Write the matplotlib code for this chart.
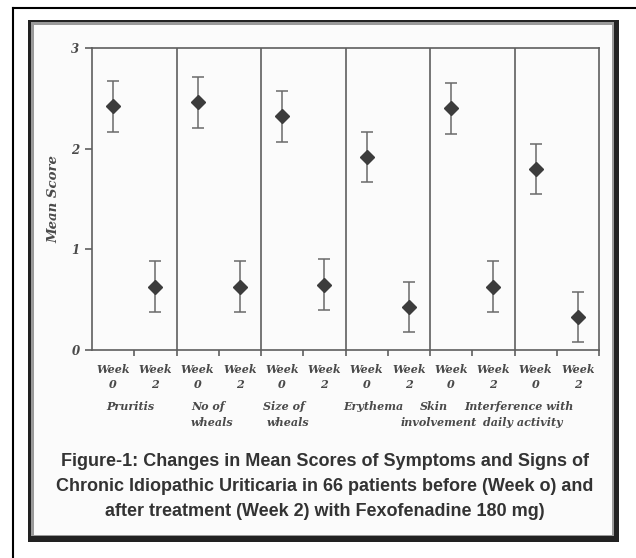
import numpy as np
import matplotlib
matplotlib.use("Agg")
import matplotlib.pyplot as plt
from matplotlib.patches import Rectangle
from matplotlib.lines import Line2D

# values
categories = ["Pruritis", "No of\nwheals", "Size of\nwheals", "Erythema",
              "Skin\ninvolvement", "Interference with\ndaily activity"]
week_labels = ["Week\n0", "Week\n2"]
mean_w0 = [2.42, 2.46, 2.32, 1.92, 2.40, 1.80]
mean_w2 = [0.63, 0.63, 0.65, 0.43, 0.63, 0.33]
err_w0 = [0.25, 0.25, 0.25, 0.25, 0.25, 0.25]
err_w2 = [0.25, 0.25, 0.25, 0.25, 0.25, 0.25]
yticks = [0, 1, 2, 3]
caption = ("Figure-1: Changes in Mean Scores of Symptoms and Signs of\n"
           "Chronic Idiopathic Uriticaria in 66 patients before (Week o) and\n"
           "after treatment (Week 2) with Fexofenadine 180 mg)")

W, H = 636, 558
INK = "#3c3c3c"
LINE = "#5e5e5e"
SERIF = dict(family="DejaVu Serif", style="italic", weight="bold", color="#4a4a4a")

fig = plt.figure(figsize=(W / 100, H / 100), dpi=100)
fig.patch.set_facecolor("white")

def px_rect(x0, y0, x1, y1, **kw):
    fig.patches.append(Rectangle((x0 / W, 1 - y1 / H), (x1 - x0) / W, (y1 - y0) / H,
                                 transform=fig.transFigure, zorder=-5, **kw))

# scanned page frame
fig.add_artist(Line2D([13 / W, 13 / W], [0, 1 - 8 / H], transform=fig.transFigure, color="black", lw=1.5, zorder=-5))
fig.add_artist(Line2D([13 / W, 1], [1 - 8 / H, 1 - 8 / H], transform=fig.transFigure, color="black", lw=1.5, zorder=-5))
px_rect(28, 20, 619, 542, facecolor="#222222", edgecolor="none")
px_rect(31, 22, 614, 536, facecolor="#9a9a9a", edgecolor="none")
px_rect(34, 25, 612, 535, facecolor="#fbfbfb", edgecolor="none")

ax = fig.add_axes([92 / W, 1 - 350 / H, (599 - 92) / W, (350 - 48) / H])
ax.set_facecolor("none")
ax.set_zorder(2)

n = len(categories)
x0 = np.arange(n) * 2
x2 = x0 + 1
for xs, m, e in [(x0, mean_w0, err_w0), (x2, mean_w2, err_w2)]:
    ax.errorbar(xs, m, yerr=e, fmt="D", ms=7.5, color=INK, ecolor="#6a6a6a",
                elinewidth=1.1, capsize=4, capthick=1.1)

for i in range(1, n):
    ax.axvline(2 * i - 0.5, color=LINE, lw=1.2)

ax.set_xlim(-0.5, 2 * n - 0.5)
ax.set_ylim(0, 3)
for s in ax.spines.values():
    s.set_color(LINE)
    s.set_linewidth(1.2)

ax.set_xticks(np.arange(2 * n))
ax.set_xticklabels(week_labels * n, linespacing=1.45, fontsize=8, **SERIF)
ax.tick_params(axis="x", which="major", length=0, pad=10)
ax.set_xticks(np.arange(2 * n) + 0.5, minor=True)
ax.tick_params(axis="x", which="minor", length=4, width=1.2, color=LINE, direction="out")

ax.set_yticks(yticks)
ax.set_yticklabels([str(v) for v in yticks], fontsize=8.5, **SERIF)
ax.tick_params(axis="y", length=5, width=1.2, color=LINE, direction="out", pad=4)
ax.set_ylabel("Mean Score", fontsize=9.5, labelpad=8, **SERIF)

# category names sit under each pair; the last two share the second line
cat_x = [0.4, 2.25, 4.05, 6.15, 7.6, 9.6]
tr = ax.get_xaxis_transform()
for cx, lab in zip(cat_x, categories):
    first, _, second = lab.partition("\n")
    ax.text(cx, -0.168, first, transform=tr, ha="center", va="top", fontsize=8, **SERIF)
    if second:
        ax.text(cx + 0.1, -0.223, second, transform=tr, ha="center", va="top", fontsize=8, **SERIF)

fig.text(325 / W, 1 - 453 / H, caption, ha="center", va="top", fontsize=13,
         family="Liberation Sans", weight="bold", color="#333333", linespacing=1.6)

fig.savefig("out.png", dpi=100)
